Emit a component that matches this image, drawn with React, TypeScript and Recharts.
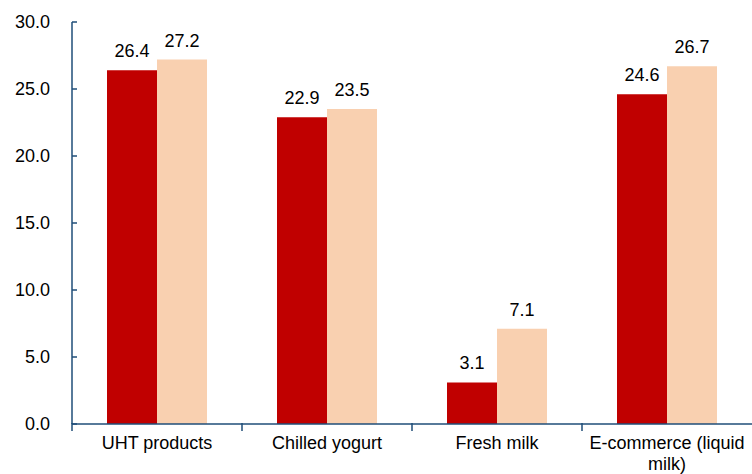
import { BarChart, Bar, XAxis, YAxis, LabelList, Text } from 'recharts'

const categories = ['UHT products', 'Chilled yogurt', 'Fresh milk', 'E-commerce (liquid milk)']
const seriesA = [26.4, 22.9, 3.1, 24.6]
const seriesB = [27.2, 23.5, 7.1, 26.7]
const yTicks = [0, 5, 10, 15, 20, 25, 30]

const AXIS = '#1F4E79'
const FONT = '"Liberation Sans", Arial, sans-serif'

const data = categories.map((name, i) => ({ name, a: seriesA[i], b: seriesB[i] }))

// category label, plus a short tick mark on the left edge of each band
function CategoryTick(props: any) {
  const { x, y, payload } = props
  const half = payload?.offset ?? 85
  return (
    <g>
      <line x1={x - half} x2={x - half} y1={y - 1} y2={y + 7} stroke={AXIS} strokeWidth={1.5} />
      <Text
        x={x}
        y={y + 12}
        width={half * 2 - 6}
        textAnchor="middle"
        verticalAnchor="start"
        lineHeight={21}
        fontSize={18}
        fontFamily={FONT}
        style={{ fontSize: 18, fontFamily: FONT }}
        fill="#000"
      >
        {payload.value}
      </Text>
    </g>
  )
}

export default function App() {
  return (
    <div style={{ position: 'absolute', left: 0, top: 0, background: '#fff', fontFamily: FONT }}>
      <BarChart
        width={752}
        height={474}
        data={data}
        margin={{ top: 22, right: 0, bottom: 0, left: 0 }}
        barCategoryGap={35}
        barGap={0}
      >
        <XAxis
          dataKey="name"
          height={50}
          interval={0}
          axisLine={{ stroke: AXIS, strokeWidth: 1.5 }}
          tickLine={false}
          tickSize={0}
          tickMargin={0}
          tick={<CategoryTick />}
        />
        <YAxis
          width={72}
          domain={[0, 30]}
          ticks={yTicks}
          interval={0}
          tickFormatter={(v: number) => v.toFixed(1)}
          axisLine={{ stroke: AXIS, strokeWidth: 1.5 }}
          tickLine={{ stroke: AXIS, strokeWidth: 1.5 }}
          tickSize={-5}
          tickMargin={27}
          tick={{ fontSize: 18, fill: '#000', fontFamily: FONT }}
        />
        <Bar dataKey="a" fill="#C00000" isAnimationActive={false}>
          <LabelList dataKey="a" position="top" offset={13} fontSize={18} fill="#000" fontFamily={FONT} formatter={(v: any) => Number(v).toFixed(1)} />
        </Bar>
        <Bar dataKey="b" fill="#F9D0B0" isAnimationActive={false}>
          <LabelList dataKey="b" position="top" offset={13} fontSize={18} fill="#000" fontFamily={FONT} formatter={(v: any) => Number(v).toFixed(1)} />
        </Bar>
      </BarChart>
    </div>
  )
}
